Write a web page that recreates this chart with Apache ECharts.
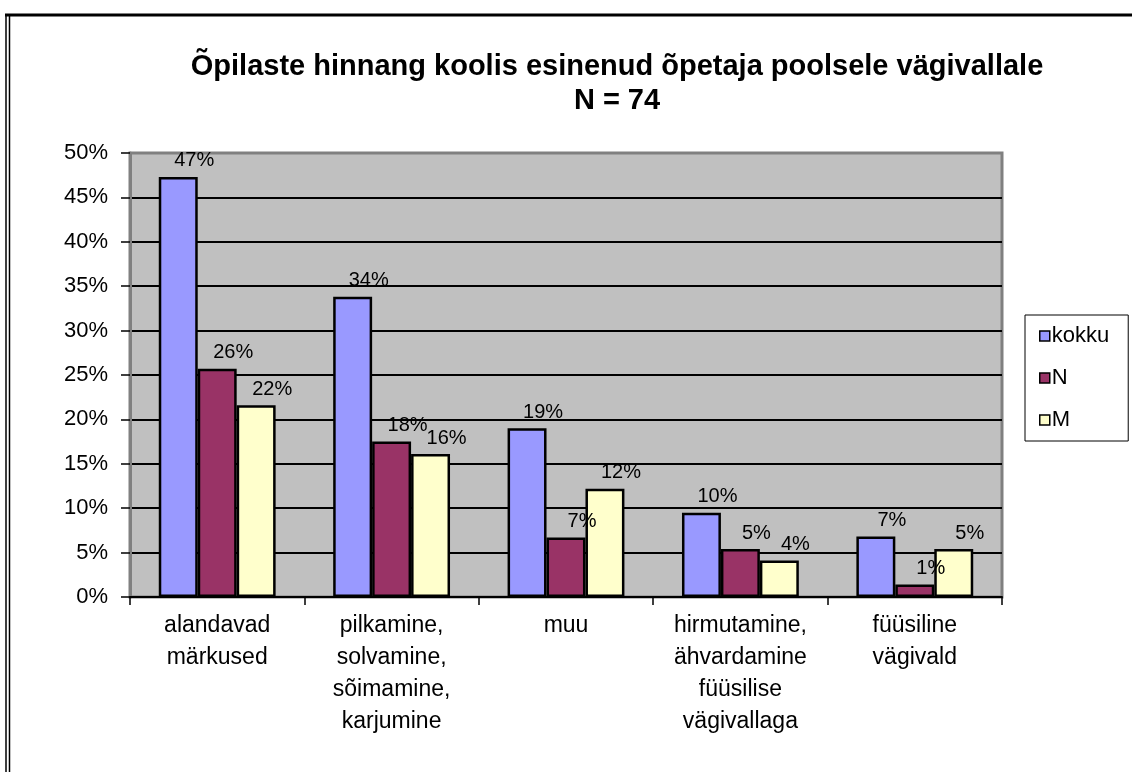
<!DOCTYPE html>
<html>
<head>
<meta charset="utf-8">
<script src="https://cdn.jsdelivr.net/npm/echarts@6/dist/echarts.min.js"></script>
<style>
    html, body { margin: 0; padding: 0; background: #fff; }
    #js-bar { width: 1132px; height: 772px; }
</style>
</head>
<body>
<div id="js-bar"></div>
<script>
/*data*/
var categories = ['alandavad\nmärkused', 'pilkamine,\nsolvamine,\nsõimamine,\nkarjumine', 'muu', 'hirmutamine,\nähvardamine\nfüüsilise\nvägivallaga', 'füüsiline\nvägivald'];
var kokku = [47.3, 33.8, 19.0, 9.5, 6.8];
var naised = [25.7, 17.5, 6.7, 5.4, 1.4];
var mehed = [21.6, 16.1, 12.2, 4.1, 5.4];
var yTicks = [0, 5, 10, 15, 20, 25, 30, 35, 40, 45, 50];

var font = 'Liberation Sans, Arial, sans-serif';

function barLabel() {
    return {
        show: true,
        position: 'top',
        distance: 6,
        offset: [16, 0],
        color: '#000',
        fontFamily: font,
        fontSize: 20,
        formatter: function (p) { return Math.round(p.value) + '%'; }
    };
}

var barChart = echarts.init(document.getElementById('js-bar'));
var barOption = {
    animation: false,
    textStyle: { fontFamily: font },
    title: {
        text: 'Õpilaste hinnang koolis esinenud õpetaja poolsele vägivallale\nN = 74',
        left: 612,
        top: 45,
        textAlign: 'center',
        textStyle: {
            fontFamily: font,
            fontWeight: 'bold',
            fontSize: 29,
            lineHeight: 34,
            color: '#000'
        }
    },
    legend: {
        data: ['kokku', 'N', 'M'],
        orient: 'vertical',
        left: 1025,
        top: 315,
        padding: [10, 19, 10, 14],
        itemGap: 20,
        itemWidth: 10,
        itemHeight: 10,
        icon: 'rect',
        borderColor: '#000',
        borderWidth: 1,
        itemStyle: { borderColor: '#000', borderWidth: 1.5 },
        textStyle: { fontFamily: font, fontSize: 22, color: '#000', padding: [0, 0, 0, -3] }
    },
    grid: {
        left: 130,
        right: 130,
        top: 153,
        bottom: 175,
        show: true,
        backgroundColor: '#C0C0C0',
        borderColor: '#808080',
        borderWidth: 3
    },
    xAxis: {
        type: 'category',
        data: categories,
        axisLine: { lineStyle: { color: '#000', width: 2 } },
        axisTick: { show: true, length: 8, lineStyle: { color: '#000', width: 1.5 } },
        axisLabel: {
            interval: 0,
            margin: 13,
            color: '#000',
            fontFamily: font,
            fontSize: 23,
            lineHeight: 32
        }
    },
    yAxis: {
        type: 'value',
        min: yTicks[0],
        max: yTicks[yTicks.length - 1],
        interval: 5,
        axisLine: { show: true, lineStyle: { color: '#808080', width: 3 } },
        axisTick: { show: true, length: 9, lineStyle: { color: '#000', width: 1.5 } },
        axisLabel: {
            margin: 22,
            color: '#000',
            fontFamily: font,
            fontSize: 22,
            formatter: '{value}%'
        },
        splitLine: {
            lineStyle: {
                color: ['#000', '#000', '#000', '#000', '#000', '#000', '#000', '#000', '#000', '#000', '#808080'],
                width: 2
            }
        }
    },
    series: [{
        name: 'kokku',
        type: 'bar',
        data: kokku,
        barGap: '0%',
        barCategoryGap: '33%',
        itemStyle: { color: '#9999FF', borderColor: '#000', borderWidth: 2.5 },
        label: barLabel()
    }, {
        name: 'N',
        type: 'bar',
        data: naised,
        itemStyle: { color: '#993366', borderColor: '#000', borderWidth: 2.5 },
        label: barLabel()
    }, {
        name: 'M',
        type: 'bar',
        data: mehed,
        itemStyle: { color: '#FFFFCC', borderColor: '#000', borderWidth: 2.5 },
        label: barLabel()
    }],
    graphic: [
        { type: 'line', shape: { x1: 5, y1: 15, x2: 1132, y2: 15 }, style: { stroke: '#000', lineWidth: 3 } },
        { type: 'line', shape: { x1: 6, y1: 15, x2: 6, y2: 772 }, style: { stroke: '#000', lineWidth: 1.5 } },
        { type: 'line', shape: { x1: 9.5, y1: 15, x2: 9.5, y2: 772 }, style: { stroke: '#000', lineWidth: 1.5 } }
    ]
};
barChart.setOption(barOption);
</script>
</body>
</html>
